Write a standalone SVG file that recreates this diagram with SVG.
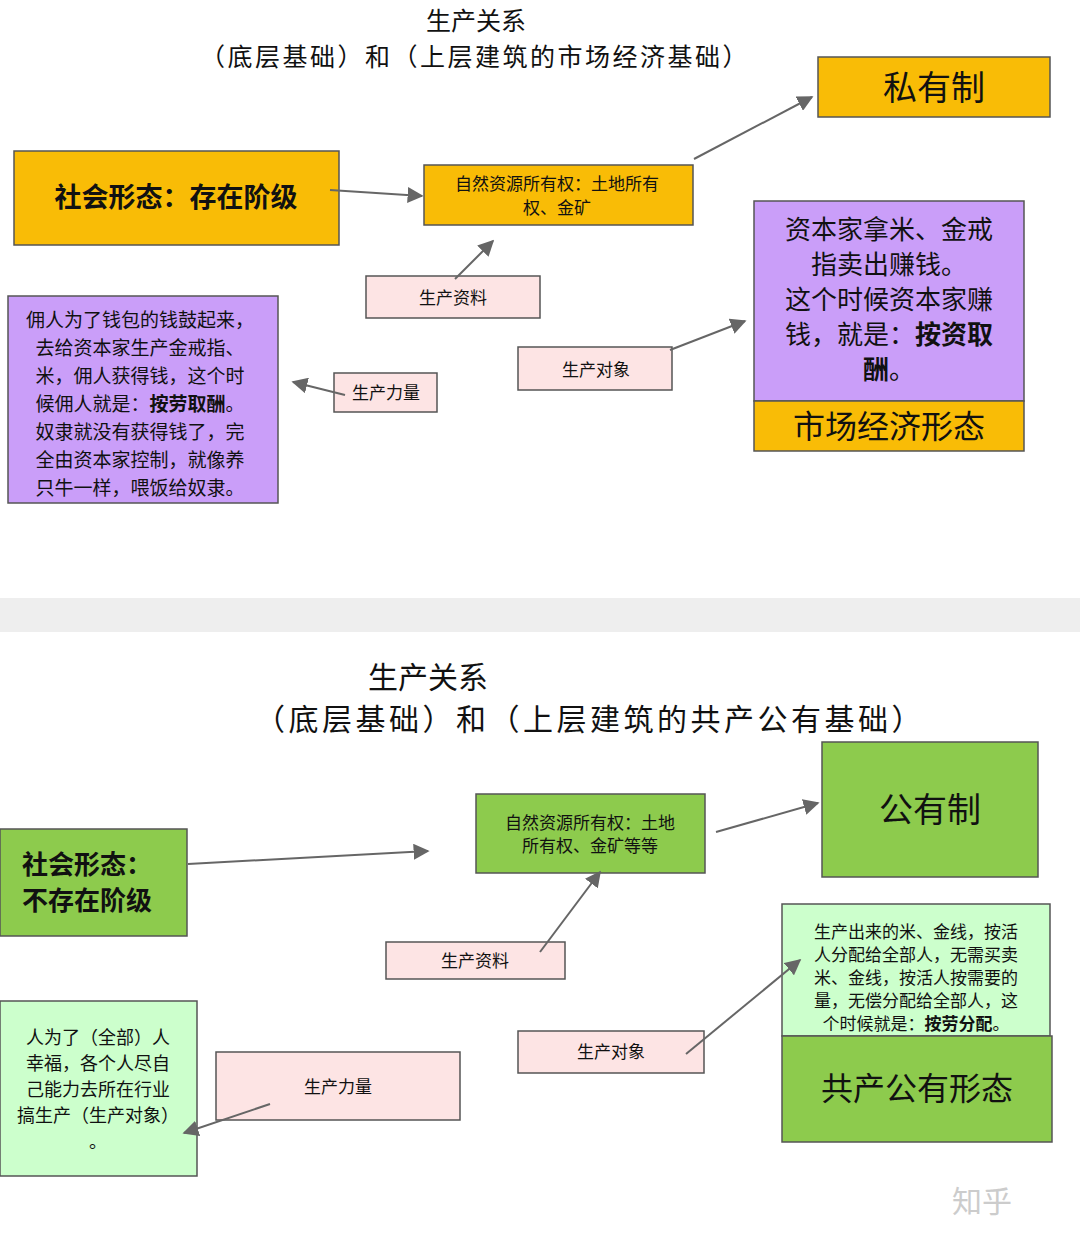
<svg xmlns="http://www.w3.org/2000/svg" width="1080" height="1242" viewBox="0 0 1080 1242">
<style>
text{font-family:"Noto Sans CJK SC","Liberation Sans",sans-serif;fill:#111}
.b{stroke:#555;stroke-width:1.5}
.o{fill:#F9BC06}.p{fill:#CA9EF9}.k{fill:#FDE4E4}.g{fill:#8DCB4D}.lg{fill:#CCFFCC}
.c{stroke:#666;stroke-width:2;fill:none;marker-end:url(#a)}
</style>
<defs><marker id="a" viewBox="0 0 10 10" refX="9" refY="5" markerWidth="8" markerHeight="8" orient="auto"><path d="M0,0L10,5L0,10z" fill="#666"/></marker></defs>
<rect width="1080" height="1242" fill="#fff"/>
<rect x="0" y="598" width="1080" height="34" fill="#eeeeee"/>
<g id="title1" font-size="25" text-anchor="middle"><text x="476" y="30">生产关系</text><text x="475" y="66" letter-spacing="2.5">（底层基础）和（上层建筑的市场经济基础）</text></g>
<g id="n1"><rect class="b o" x="818" y="57" width="232" height="60"/><text x="934" y="100" font-size="34" text-anchor="middle">私有制</text></g>
<g id="n2"><rect class="b o" x="14" y="151" width="325" height="94"/><text x="176" y="207" font-size="27" font-weight="bold" text-anchor="middle">社会形态：存在阶级</text></g>
<g id="n3"><rect class="b o" x="424" y="165" width="269" height="60"/><text font-size="17" text-anchor="middle"><tspan x="557" y="190">自然资源所有权：土地所有</tspan><tspan x="557" y="214">权、金矿</tspan></text></g>
<g id="n4"><rect class="b k" x="366" y="276" width="174" height="42"/><text x="453" y="304" font-size="17" text-anchor="middle">生产资料</text></g>
<g id="n5"><rect class="b p" x="8" y="296" width="270" height="207"/><text font-size="19" text-anchor="middle"><tspan x="140" y="327">佣人为了钱包的钱鼓起来，</tspan><tspan x="140" y="355">去给资本家生产金戒指、</tspan><tspan x="140" y="383">米，佣人获得钱，这个时</tspan><tspan x="140" y="411">候佣人就是：<tspan font-weight="bold">按劳取酬</tspan>。</tspan><tspan x="140" y="439">奴隶就没有获得钱了，完</tspan><tspan x="140" y="467">全由资本家控制，就像养</tspan><tspan x="140" y="495">只牛一样，喂饭给奴隶。</tspan></text></g>
<g id="n6"><rect class="b k" x="334" y="373" width="103" height="39"/><text x="386" y="399" font-size="17" text-anchor="middle">生产力量</text></g>
<g id="n7"><rect class="b k" x="518" y="347" width="154" height="43"/><text x="596" y="376" font-size="17" text-anchor="middle">生产对象</text></g>
<g id="n8"><rect class="b p" x="754" y="201" width="270" height="200"/><text font-size="26" text-anchor="middle"><tspan x="889" y="239">资本家拿米、金戒</tspan><tspan x="889" y="274">指卖出赚钱。</tspan><tspan x="889" y="309">这个时候资本家赚</tspan><tspan x="889" y="344">钱，就是：<tspan font-weight="bold">按资取</tspan></tspan><tspan x="889" y="379" font-weight="bold">酬<tspan font-weight="normal">。</tspan></tspan></text></g>
<g id="n9"><rect class="b o" x="754" y="401" width="270" height="50"/><text x="889" y="438" font-size="32" text-anchor="middle">市场经济形态</text></g>
<g id="title2" font-size="30" text-anchor="middle"><text x="428" y="688">生产关系</text><text x="590" y="730" letter-spacing="3.5">（底层基础）和（上层建筑的共产公有基础）</text></g>
<g id="m1"><rect class="b g" x="0" y="829" width="187" height="107"/><text font-size="26" font-weight="bold"><tspan x="22" y="874">社会形态：</tspan><tspan x="22" y="910">不存在阶级</tspan></text></g>
<g id="m2"><rect class="b g" x="476" y="794" width="229" height="79"/><text font-size="17" text-anchor="middle"><tspan x="590" y="829">自然资源所有权：土地</tspan><tspan x="590" y="852">所有权、金矿等等</tspan></text></g>
<g id="m3"><rect class="b g" x="822" y="742" width="216" height="135"/><text x="930" y="822" font-size="34" text-anchor="middle">公有制</text></g>
<g id="m4"><rect class="b k" x="386" y="942" width="179" height="37"/><text x="475" y="967" font-size="17" text-anchor="middle">生产资料</text></g>
<g id="m5"><rect class="b k" x="518" y="1031" width="186" height="42"/><text x="611" y="1058" font-size="17" text-anchor="middle">生产对象</text></g>
<g id="m6"><rect class="b k" x="216" y="1052" width="244" height="68"/><text x="338" y="1093" font-size="17" text-anchor="middle">生产力量</text></g>
<g id="m7"><rect class="b lg" x="0" y="1001" width="197" height="175"/><text font-size="18" text-anchor="middle"><tspan x="98" y="1044">人为了（全部）人</tspan><tspan x="98" y="1070">幸福，各个人尽自</tspan><tspan x="98" y="1096">己能力去所在行业</tspan><tspan x="98" y="1122">搞生产（生产对象）</tspan><tspan x="98" y="1148">。</tspan></text></g>
<g id="m8"><rect class="b lg" x="782" y="904" width="268" height="132"/><text font-size="17" text-anchor="middle"><tspan x="916" y="938">生产出来的米、金线，按活</tspan><tspan x="916" y="961">人分配给全部人，无需买卖</tspan><tspan x="916" y="984">米、金线，按活人按需要的</tspan><tspan x="916" y="1007">量，无偿分配给全部人，这</tspan><tspan x="916" y="1030">个时候就是：<tspan font-weight="bold">按劳分配</tspan>。</tspan></text></g>
<g id="m9"><rect class="b g" x="782" y="1036" width="270" height="106"/><text x="917" y="1100" font-size="32" text-anchor="middle">共产公有形态</text></g>
<g id="connectors">
<path class="c" d="M330,190L422,196"/><path class="c" d="M694,159L812,97"/><path class="c" d="M455,279L493,241"/><path class="c" d="M670,350L745,321"/><path class="c" d="M345,395L293,382"/>
<path class="c" d="M188,864L428,851"/><path class="c" d="M716,832L818,803"/><path class="c" d="M540,952L600,872"/><path class="c" d="M686,1054L800,960"/><path class="c" d="M270,1104L184,1133"/>
</g>
<text x="952" y="1212" font-size="30" style="fill:#cccccc">知乎</text>
</svg>
